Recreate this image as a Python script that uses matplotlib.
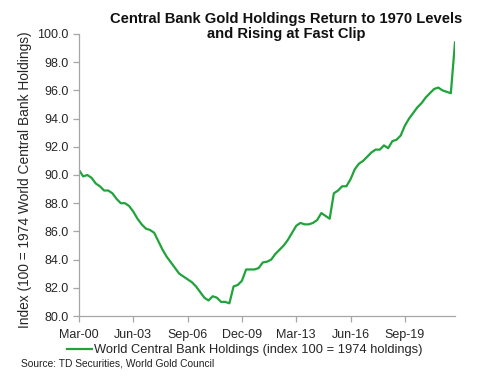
import matplotlib
matplotlib.use("Agg")
import matplotlib.pyplot as plt

plt.rcParams['font.family'] = ['Liberation Sans', 'DejaVu Sans']

# quarterly index values, Mar-00 .. Sep-22
holdings = [
    90.35, 89.9, 90.0, 89.8, 89.4, 89.2, 88.9, 88.9, 88.7, 88.3,
    88.0, 88.0, 87.8, 87.4, 86.9, 86.5, 86.2, 86.1, 85.9, 85.3,
    84.7, 84.2, 83.8, 83.4, 83.0, 82.8, 82.6, 82.4, 82.1, 81.7,
    81.3, 81.1, 81.4, 81.3, 81.0, 81.0, 80.9, 82.1, 82.2, 82.5,
    83.3, 83.3, 83.3, 83.4, 83.8, 83.85, 84.0, 84.4, 84.7, 85.0,
    85.4, 85.9, 86.4, 86.6, 86.5, 86.5, 86.6, 86.8, 87.3, 87.1,
    86.9, 88.7, 88.9, 89.2, 89.2, 89.7, 90.4, 90.8, 91.0, 91.3,
    91.6, 91.8, 91.8, 92.1, 91.9, 92.4, 92.5, 92.8, 93.5, 94.0,
    94.4, 94.8, 95.1, 95.5, 95.8, 96.1, 96.2, 96.0, 95.9, 95.8,
    99.4,
]
tick_labels = ["Mar-00", "Jun-03", "Sep-06", "Dec-09", "Mar-13", "Jun-16", "Sep-19"]
tick_step = 13

fig = plt.figure(figsize=(5.0, 3.81), dpi=100)
ax = fig.add_axes([0.158, 0.1706, 0.752, 0.7402])

green = "#1fa33a"
ax.plot(range(len(holdings)), holdings, color=green, linewidth=1.6,
        label="World Central Bank Holdings (index 100 = 1974 holdings)")

ax.set_xlim(0, len(holdings) - 1)
ax.set_ylim(80, 100)
ax.set_yticks([80 + 2 * i for i in range(11)])
ax.set_yticklabels([f"{80 + 2 * i:.1f}" for i in range(11)])
ax.set_xticks([i * tick_step for i in range(len(tick_labels))])
ax.set_xticklabels(tick_labels)

for s in ["top", "right"]:
    ax.spines[s].set_visible(False)
for s in ["left", "bottom"]:
    ax.spines[s].set_color("#a6a6a6")
    ax.spines[s].set_linewidth(0.9)
ax.tick_params(axis="both", colors="#a6a6a6", labelcolor="#262626",
               labelsize=9, length=4, width=0.9)
ax.tick_params(axis="x", pad=5)

ax.set_ylabel("Index (100 = 1974 World Central Bank Holdings)", fontsize=9.9,
              color="#262626")
ax.yaxis.set_label_coords(-0.125, 0.482)

fig.text(0.572, 0.93, "Central Bank Gold Holdings Return to 1970 Levels\nand Rising at Fast Clip",
         ha="center", va="center", fontsize=10.6, fontweight="bold",
         linespacing=1.1, color="#111111")

leg = fig.legend(loc="center", bbox_to_anchor=(0.489, 0.081), frameon=False,
                 fontsize=9.3, handlelength=1.95, handletextpad=0.15)
for t in leg.get_texts():
    t.set_color("#262626")

fig.text(0.042, 0.047, "Source: TD Securities, World Gold Council",
         ha="left", va="center", fontsize=7.4, color="#222222")

fig.savefig("out.png", dpi=100)
